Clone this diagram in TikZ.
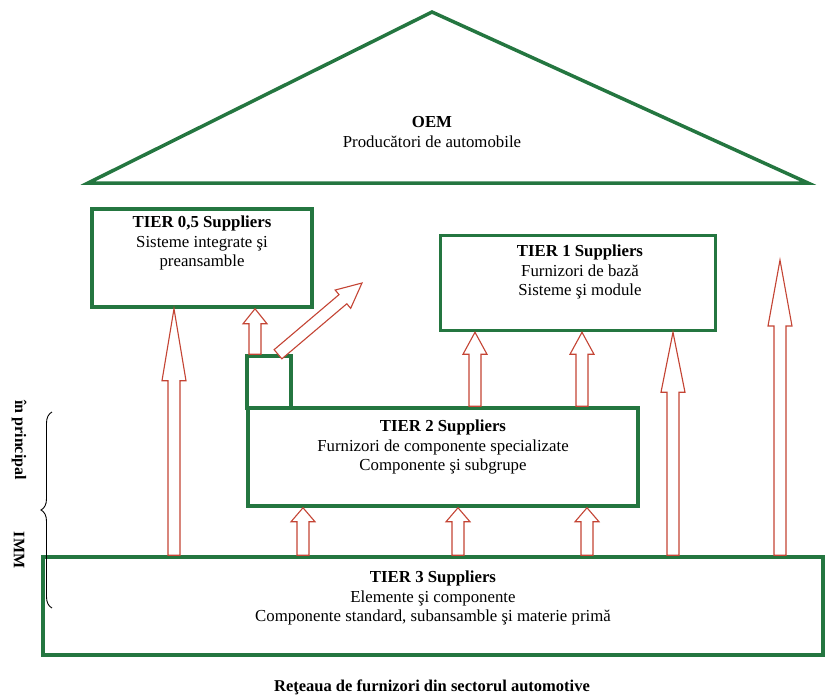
\documentclass[tikz,border=0pt]{standalone}
\usepackage{fontspec}
\setmainfont{Liberation Serif}
\usetikzlibrary{calc,positioning,decorations.pathreplacing}
\definecolor{tiergreen}{RGB}{36,118,64}
\definecolor{arrowred}{RGB}{196,68,52}
\tikzset{
  tierbox/.style={draw=tiergreen, line width=3.5pt, inner sep=0pt},
  tiertext/.style={align=center, inner sep=0pt, font=\fontsize{16.8}{19.5}\selectfont},
  sidetext/.style={rotate=-90, font=\bfseries\fontsize{16}{18}\selectfont},
  blockarrow/.style={draw=arrowred, line width=1.1pt, fill=white, line join=miter,
    to path={let \p1=(\tikztostart), \p2=(\tikztotarget),
      \n1={atan2(\y2-\y1,\x2-\x1)}, \n2={veclen(\x2-\x1,\y2-\y1)} in
      ($(\p1)+(\n1-90:6pt)$)
      -- ($(\p1)+(\n1:\n2-#1pt)+(\n1-90:6pt)$)
      -- ($(\p1)+(\n1:\n2-#1pt)+(\n1-90:12pt)$)
      -- (\p2)
      -- ($(\p1)+(\n1:\n2-#1pt)+(\n1+90:12pt)$)
      -- ($(\p1)+(\n1:\n2-#1pt)+(\n1+90:6pt)$)
      -- ($(\p1)+(\n1+90:6pt)$) -- cycle}}
}
\begin{document}
\begin{tikzpicture}[x=1pt,y=-1pt]
  \useasboundingbox (0,0) rectangle (825,697);
  % OEM roof
  \draw[tiergreen, line width=3.5pt, line join=miter] (88,183) -- (432,12) -- (808,183) -- cycle;
  \node[tiertext] (oem) at (432,132) {\textbf{OEM}\\Producători de automobile};

  % tiers
  \node[tierbox, minimum width=220pt, minimum height=98pt] (t05) at (202,258) {};
  \node[tierbox, minimum width=275pt, minimum height=95pt] (t1) at (578,283) {};
  \node[tierbox, minimum width=44pt, minimum height=52pt] (sm) at (269,382) {};
  \node[tierbox, minimum width=390pt, minimum height=98pt] (t2) at (443,457) {};
  \node[tierbox, minimum width=780pt, minimum height=98pt] (t3) at (433,606) {};

  \node[tiertext] (t05txt) at (202,243) {\textbf{TIER 0,5 Suppliers}\\Sisteme integrate şi\\preansamble};
  \node[tiertext] (t1txt) at (580,272) {\textbf{TIER 1 Suppliers}\\Furnizori de bază\\Sisteme şi module};
  \node[tiertext] (t2txt) at (443,447) {\textbf{TIER 2 Suppliers}\\Furnizori de componente specializate\\Componente şi subgrupe};
  \node[tiertext] (t3txt) at (433,598) {\textbf{TIER 3 Suppliers}\\Elemente şi componente\\Componente standard, subansamble şi materie primă};

  % arrows
  \coordinate (diagtip) at (362,283);
  \coordinate (freetip) at (780,260);
  \foreach \xpos/\from/\to/\hl in {174/t3/t05/72, 303/t3/t2/14, 458/t3/t2/14, 587/t3/t2/14,
      673/t3/t1/60, 475/t2/t1/22, 582/t2/t1/22, 255/sm/t05/15}
    \draw[blockarrow=\hl] (\from.north -| \xpos,0) to (\to.south -| \xpos,0);
  \draw[blockarrow=25] ([xshift=9pt]sm.north) to (diagtip);
  \draw[blockarrow=66] (t3.north -| freetip) to (freetip);

  % IMM brace
  \draw[decorate, decoration={brace, amplitude=11pt}, line width=0.9pt] (52,608) -- (52,412);
  \node[sidetext] (princ) at (19,440) {în principal};
  \node[sidetext] (imm) at (19,550) {IMM};

  \node[font=\bfseries\fontsize{16.5}{18}\selectfont] (caption) at (432,687) {Reţeaua de furnizori din sectorul automotive};
\end{tikzpicture}
\end{document}
